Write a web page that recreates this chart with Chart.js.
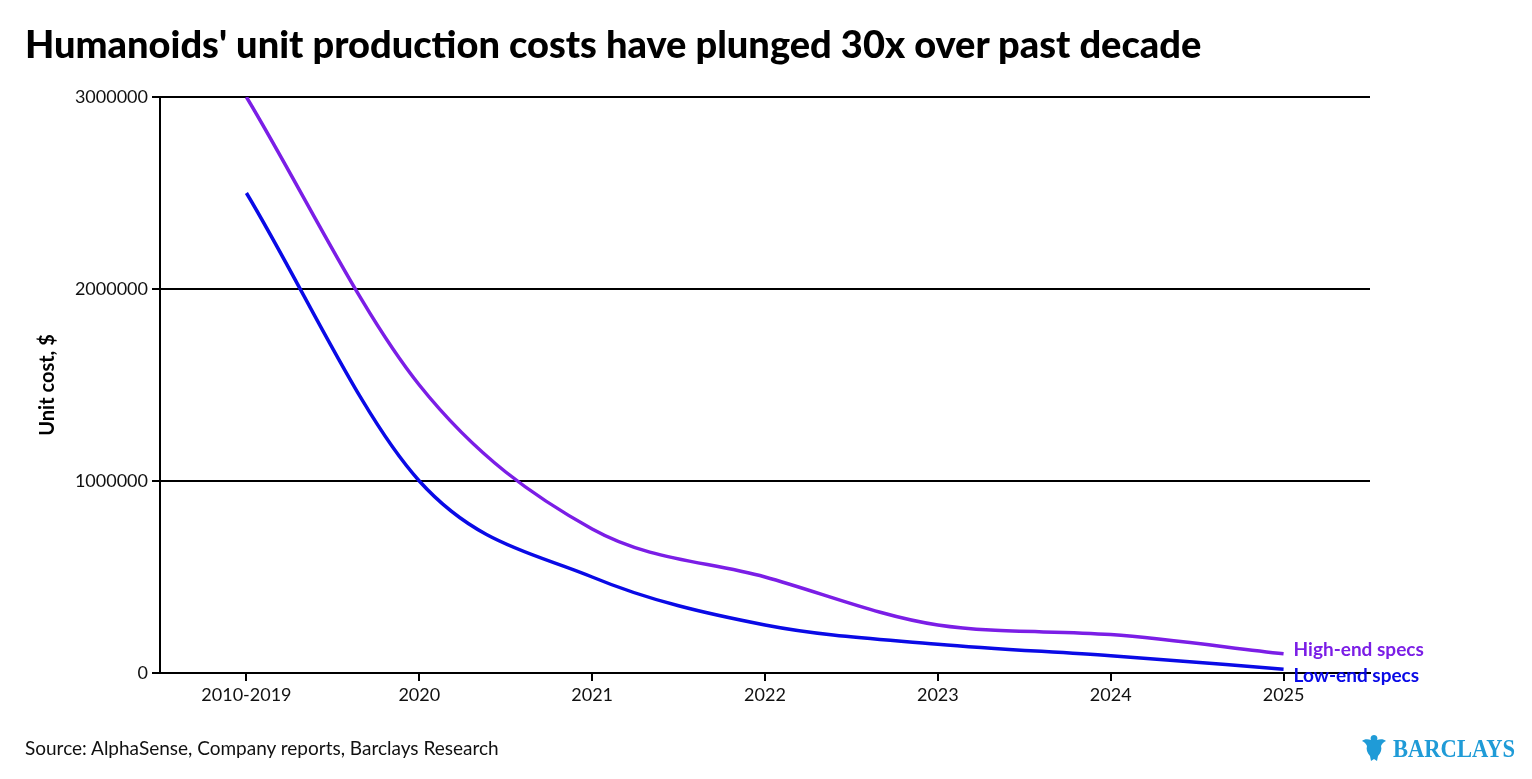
<!DOCTYPE html>
<html>
<head>
<meta charset="utf-8">
<script src="https://cdn.jsdelivr.net/npm/chart.js@4"></script>
<style>
  body { margin: 0; background: #fff; font-family: Lato, "Open Sans", sans-serif; }
  #wrap { position: absolute; left: 0; top: 0; width: 1532px; height: 779px; }
  #title { position: absolute; left: 25px; top: 20px; font-size: 38px; font-weight: 900; color: #000; white-space: nowrap; }
  #source { position: absolute; left: 25px; top: 736px; font-size: 19px; color: #111; }
  #logo { position: absolute; left: 1360px; top: 731px; }
</style>
</head>
<body>
<div id="wrap"><canvas id="costChart" width="1532" height="779"></canvas></div>
<div id="title">Humanoids' unit production costs have plunged 30x over past decade</div>
<div id="source">Source: AlphaSense, Company reports, Barclays Research</div>
<svg id="logo" width="170" height="34" viewBox="0 0 170 34">
  <path d="M14 4 C11 4 10 7 11 9 C8 8 4 8 2 10 C5 11 6 13 7 15 C6 18 7 22 10 25 L11 30 L14 28 L17 30 L18 25 C21 22 22 18 21 15 C22 13 23 11 26 10 C24 8 20 8 17 9 C18 7 17 4 14 4 Z" fill="#1f9bd7"/>
  <text x="33" y="26" font-family="Liberation Serif, serif" font-size="26" font-weight="bold" fill="#1f9bd7" textLength="122" lengthAdjust="spacingAndGlyphs">BARCLAYS</text>
</svg>
<script>
// données
var categories = ['2010-2019', '2020', '2021', '2022', '2023', '2024', '2025'];
var highEnd = [3000000, 1500000, 750000, 500000, 250000, 200000, 100000];
var lowEnd = [2500000, 1000000, 500000, 250000, 150000, 90000, 20000];
var yTicks = [0, 1000000, 2000000, 3000000];

var highColor = '#7b1ee6';
var lowColor = '#0a0ae6';

// labels at the end of each line
var endLabels = {
    id: 'endLabels',
    afterDatasetsDraw: function(chart) {
        var ctx = chart.ctx;
        var offsets = [-4, 7];
        ctx.save();
        ctx.font = 'bold 19px Lato, sans-serif';
        ctx.textBaseline = 'middle';
        chart.data.datasets.forEach(function(ds, i) {
            var meta = chart.getDatasetMeta(i);
            var pt = meta.data[meta.data.length - 1];
            ctx.fillStyle = ds.borderColor;
            ctx.fillText(ds.label, pt.x + 10, pt.y + offsets[i]);
        });
        ctx.restore();
    }
};

var ctx = document.getElementById('costChart').getContext('2d');
var costChart = new Chart(ctx, {
    type: 'line',
    data: {
        labels: categories,
        datasets: [{
            label: 'High-end specs',
            data: highEnd,
            borderColor: highColor,
            borderWidth: 3.5,
            pointRadius: 0,
            cubicInterpolationMode: 'monotone'
        }, {
            label: 'Low-end specs',
            data: lowEnd,
            borderColor: lowColor,
            borderWidth: 3.5,
            pointRadius: 0,
            cubicInterpolationMode: 'monotone'
        }]
    },
    options: {
        responsive: false,
        animation: false,
        layout: { padding: { top: 97, right: 162, left: 0, bottom: 0 } },
        plugins: {
            legend: { display: false },
            tooltip: { enabled: false }
        },
        scales: {
            x: {
                offset: true,
                grid: { offset: false, drawOnChartArea: false, color: '#000', lineWidth: 2, tickLength: 8, tickColor: '#000', tickWidth: 2 },
                border: { color: '#000', width: 2 },
                ticks: { color: '#111', font: { family: 'Lato', size: 18 }, padding: 3, maxRotation: 0 },
                afterFit: function(scale) { scale.height = 106; }
            },
            y: {
                min: 0,
                max: 3000000,
                afterBuildTicks: function(scale) {
                    scale.ticks = yTicks.map(function(v) { return { value: v }; });
                },
                grid: { color: '#000', lineWidth: 2, tickLength: 8, tickColor: '#000', tickWidth: 2 },
                border: { color: '#000', width: 2 },
                ticks: {
                    color: '#111', font: { family: 'Lato', size: 18 }, padding: 4,
                    callback: function(value) { return String(value); }
                },
                title: { display: true, text: 'Unit cost, $', color: '#000', font: { family: 'Lato', size: 20, weight: 'bold' }, padding: { top: 36 } },
                afterFit: function(scale) { scale.width = 160; }
            }
        }
    },
    plugins: [endLabels]
});
</script>
</body>
</html>
